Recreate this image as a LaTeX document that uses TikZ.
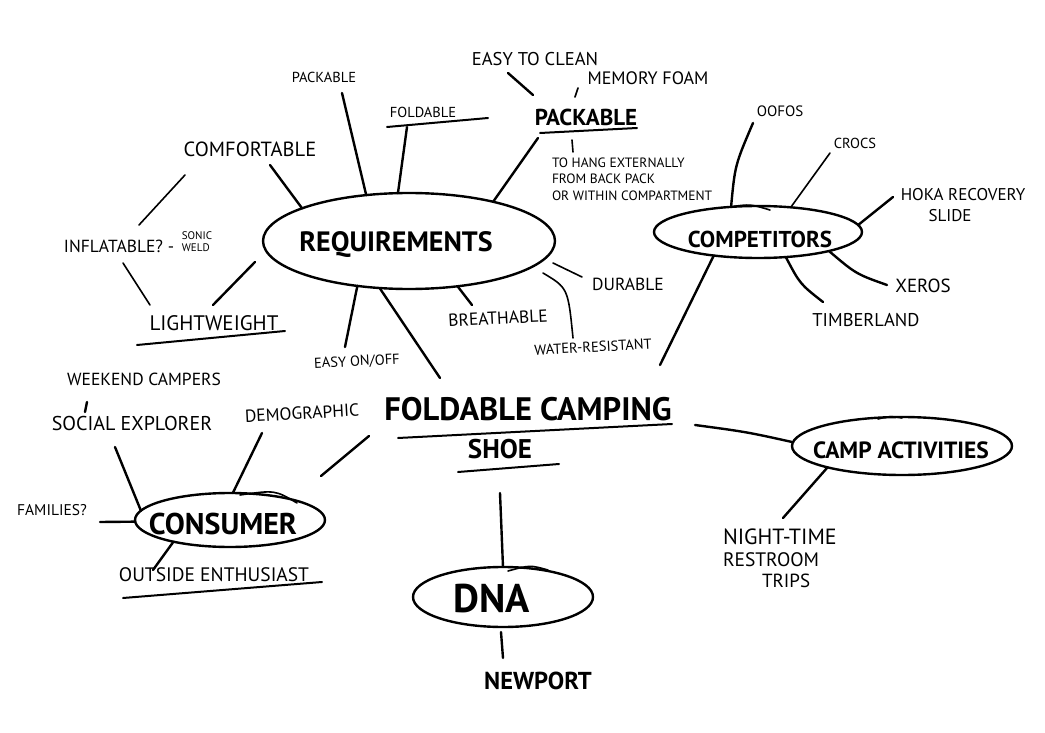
\documentclass[tikz,border=0pt]{standalone}
\usepackage{fontspec}
\setmainfont{PT Sans}
\usetikzlibrary{shapes.geometric}
\newcommand{\fsz}[1]{\fontsize{#1}{#1}\selectfont}
\newcommand{\bfsz}[1]{\fontsize{#1}{#1}\selectfont\bfseries}
\tikzset{
  bub/.style={ellipse, draw, line width=2.4pt, inner sep=0pt, outer sep=0pt},
  lnk/.style={line width=2.4pt, line cap=round},
  thn/.style={line width=1.6pt, line cap=round},
  ul/.style={line width=2pt, line cap=round},
  lab/.style={inner sep=0pt, outer sep=0pt}
}
\begin{document}
\begin{tikzpicture}[x=1pt,y=-1pt]
\useasboundingbox[fill=white] (0,0) rectangle (1045,733);

% ---------- bubbles ----------
\node[bub, minimum width=292pt, minimum height=96pt] (req)  at (409,241) {};
\node[bub, minimum width=208pt, minimum height=52pt] (comp) at (758,232) {};
\node[bub, minimum width=190pt, minimum height=54pt] (cons) at (230,520) {};
\node[bub, minimum width=220pt, minimum height=58pt] (camp) at (902,446) {};
\node[bub, minimum width=180pt, minimum height=60pt] (dna)  at (503,597) {};

% ---------- texts ----------
\node[lab, font=\bfsz{32.5}] (title) at (528,409) {FOLDABLE CAMPING};
\node[lab, font=\bfsz{27}] (shoe) at (500,449) {SHOE};
\node[lab, font=\bfsz{28}] (reqT) at (396,245) {REQUIREMENTS};
\node[lab, font=\bfsz{23}] (compT) at (760,239) {COMPETITORS};
\node[lab, font=\bfsz{30}] (consT) at (223,524) {CONSUMER};
\node[lab, font=\bfsz{23.5}] (campT) at (901,450) {CAMP ACTIVITIES};
\node[lab, font=\bfsz{40}] (dnaT) at (492,599) {DNA};

\node[lab, font=\bfsz{23}] (packB) at (586,117) {PACKABLE};
\node[lab, font=\fsz{18.5}] (clean) at (535,59) {EASY TO CLEAN};
\node[lab, font=\fsz{18}] (mem) at (648,78) {MEMORY FOAM};
\node[lab, font=\fsz{13.5}, align=left, anchor=west] (hang) at (552,179)
  {TO HANG EXTERNALLY\\[3pt]FROM BACK PACK\\[3pt]OR WITHIN COMPARTMENT};

\node[lab, font=\fsz{14.5}] (packS) at (324,77) {PACKABLE};
\node[lab, font=\fsz{14.5}] (foldS) at (423,112) {FOLDABLE};
\node[lab, font=\fsz{20.5}] (comf) at (250,149) {COMFORTABLE};
\node[lab, font=\fsz{17.5}] (infl) at (119,246) {INFLATABLE? -};
\node[lab, font=\fsz{11}, align=left] (sonic) at (197,242) {SONIC\\[1pt]WELD};
\node[lab, font=\fsz{21}] (light) at (214,323) {LIGHTWEIGHT};

\node[lab, font=\fsz{15}] (oofos) at (780,111) {OOFOS};
\node[lab, font=\fsz{14.5}] (crocs) at (855,143) {CROCS};
\node[lab, font=\fsz{17}] (hoka) at (963,195) {HOKA RECOVERY};
\node[lab, font=\fsz{17}] (slide) at (950,216) {SLIDE};
\node[lab, font=\fsz{19}] (xeros) at (923,286) {XEROS};
\node[lab, font=\fsz{18.5}] (timber) at (866,320) {TIMBERLAND};

\node[lab, font=\fsz{17.5}] (durable) at (628,284) {DURABLE};
\node[lab, font=\fsz{17.5}, rotate=3] (breath) at (498,318) {BREATHABLE};
\node[lab, font=\fsz{14.5}, rotate=3] (water) at (593,347) {WATER-RESISTANT};
\node[lab, font=\fsz{14.5}, rotate=3] (easyon) at (357,362) {EASY ON/OFF};

\node[lab, font=\fsz{17.5}] (weekend) at (144,379) {WEEKEND CAMPERS};
\node[lab, font=\fsz{20}] (social) at (132,423) {SOCIAL EXPLORER};
\node[lab, font=\fsz{17.5}, rotate=3] (demo) at (302,413) {DEMOGRAPHIC};
\node[lab, font=\fsz{15.5}] (families) at (52,510) {FAMILIES?};
\node[lab, font=\fsz{19.5}] (outside) at (214,575) {OUTSIDE ENTHUSIAST};

\node[lab, font=\bfsz{24.5}] (newport) at (538,681) {NEWPORT};

\node[lab, font=\fsz{22}, anchor=west] (nightA) at (723,537) {NIGHT-TIME};
\node[lab, font=\fsz{19.5}, anchor=west] (nightB) at (723,560) {RESTROOM};
\node[lab, font=\fsz{19}, anchor=west] (nightC) at (762,581) {TRIPS};

% ---------- free ends of connectors ----------
\coordinate (cPackS) at (342,93);
\coordinate (cFoldS) at (407,127);
\coordinate (cComf) at (270,165);
\coordinate (cCI1) at (185,175);
\coordinate (cCI2) at (139,225);
\coordinate (cIL1) at (123,263);
\coordinate (cIL2) at (150,305);
\coordinate (cLR1) at (213,305);
\coordinate (cLR2) at (255,262);
\coordinate (cPB1) at (538,138);
\coordinate (cClean1) at (508,73);
\coordinate (cClean2) at (533,95);
\coordinate (cMem1) at (575,97);
\coordinate (cMem2) at (578,88);
\coordinate (cHang1) at (572,140);
\coordinate (cHang2) at (573,152);
\coordinate (cOofos) at (753,123);
\coordinate (cCrocs) at (830,153);
\coordinate (cHoka) at (893,197);
\coordinate (cXeros) at (887,285);
\coordinate (cTimber) at (823,302);
\coordinate (cCompMain) at (660,365);
\coordinate (cDur1) at (553,263);
\coordinate (cDur2) at (582,277);
\coordinate (cWat1) at (543,273);
\coordinate (cWat2) at (573,338);
\coordinate (cBreath) at (472,305);
\coordinate (cEasy) at (345,347);
\coordinate (cReqMain) at (440,378);
\coordinate (cWeek1) at (87,402);
\coordinate (cWeek2) at (85,412);
\coordinate (cSocial) at (115,447);
\coordinate (cDemo) at (262,433);
\coordinate (cCM1) at (369,436);
\coordinate (cCM2) at (321,476);
\coordinate (cFam) at (100,522);
\coordinate (cOut) at (153,570);
\coordinate (cDnaMain) at (500,493);
\coordinate (cNew1) at (501,632);
\coordinate (cNew2) at (503,658);
\coordinate (cCampMain) at (695,425);
\coordinate (cNight) at (783,518);

% ---------- connectors ----------
\draw[lnk] (req.133) -- (cPackS);
\draw[lnk] (req.103) -- (cFoldS);
\draw[lnk] (req.163) -- (cComf);
\draw[thn] (cCI1) -- (cCI2);
\draw[thn] (cIL1) -- (cIL2);
\draw[lnk] (cLR1) -- (cLR2);
\draw[lnk] (cPB1) -- (req.25);
\draw[lnk] (cClean1) -- (cClean2);
\draw[thn] (cMem1) -- (cMem2);
\draw[thn] (cHang1) -- (cHang2);

\draw[lnk] (comp.137) .. controls (735,165) .. (cOofos);
\draw[thn] (comp.37) -- (cCrocs);
\draw[lnk] (comp.4) -- (cHoka);
\draw[lnk] (comp.-15) .. controls (856,274) .. (cXeros);
\draw[lnk] (comp.-42) .. controls (800,284) .. (cTimber);
\draw[lnk] (comp.-152) -- (cCompMain);

\draw[thn] (cDur1) -- (cDur2);
\draw[thn] (cWat1) .. controls (568,288) .. (cWat2);
\draw[lnk] (req.-43) -- (cBreath);
\draw[lnk] (req.-139) -- (cEasy);
\draw[lnk] (req.-122) -- (cReqMain);

\draw[lnk] (cWeek1) -- (cWeek2);
\draw[lnk] (cons.174) -- (cSocial);
\draw[lnk] (cons.84) -- (cDemo);
\draw[lnk] (cCM1) -- (cCM2);
\draw[lnk] (cons.181) -- (cFam);
\draw[lnk] (cons.-159) -- (cOut);

\draw[lnk] (cDnaMain) -- (dna.90);
\draw[lnk] (cNew1) -- (cNew2);
\draw[lnk] (cCampMain) .. controls (747,432) .. (camp.178);
\draw[lnk] (camp.-164) -- (cNight);

% ---------- underlines ----------
\coordinate (uT1) at (398,438); \coordinate (uT2) at (672,424);
\draw[ul] (uT1) -- (uT2);
\coordinate (uS1) at (458,472); \coordinate (uS2) at (559,464);
\draw[ul] (uS1) -- (uS2);
\coordinate (uF1) at (387,127); \coordinate (uF2) at (488,118);
\draw[ul] (uF1) -- (uF2);
\coordinate (uL1) at (137,345); \coordinate (uL2) at (285,331);
\draw[ul] (uL1) -- (uL2);
\coordinate (uP1) at (540,133); \coordinate (uP2) at (637,128);
\draw[ul] (uP1) -- (uP2);
\coordinate (uO1) at (123,598); \coordinate (uO2) at (322,582);
\draw[ul] (uO1) -- (uO2);

% ---------- overlapping hand strokes on bubbles ----------
\draw[thn] (730,207) .. controls (750,204) .. (770,210);
\draw[thn] (240,495) .. controls (275,490) .. (297,503);
\draw[thn] (508,571) .. controls (530,565) .. (548,570);
\draw[thn] (878,419) .. controls (890,416) .. (902,418);
\end{tikzpicture}
\end{document}
